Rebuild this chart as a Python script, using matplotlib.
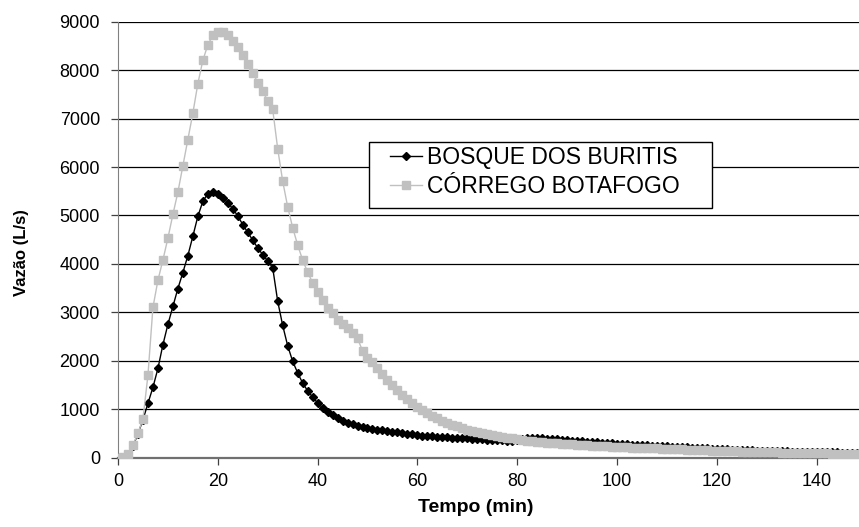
import matplotlib.pyplot as plt
from matplotlib.patches import Rectangle

plt.rcParams['font.family'] = ['Liberation Sans', 'DejaVu Sans']

# tempo em minutos (passo de 1 min)
tempo = list(range(0, 151))

bosque = [0, 10, 60, 240, 490, 780, 1120, 1450, 1840, 2330,
          2750, 3120, 3490, 3820, 4170, 4570, 4980, 5290, 5450, 5490,
          5450, 5370, 5260, 5140, 4990, 4810, 4650, 4490, 4330, 4190,
          4060, 3920, 3230, 2730, 2310, 1990, 1750, 1540, 1380, 1250,
          1130, 1030, 940, 870, 810, 760, 720, 685, 655, 630,
          610, 595, 580, 565, 550, 535, 520, 505, 490, 478,
          465, 455, 448, 440, 433, 426, 420, 414, 408, 402,
          396, 390, 384, 378, 372, 366, 360, 356, 352, 350,
          355, 385, 405, 410, 405, 398, 390, 382, 374, 366,
          358, 351, 344, 337, 330, 323, 316, 309, 302, 295,
          288, 282, 276, 270, 264, 258, 252, 247, 242, 237,
          231, 226, 221, 216, 211, 206, 200, 194, 188, 182,
          176, 172, 168, 164, 160, 156, 152, 149, 146, 143,
          140, 137, 134, 131, 128, 125, 123, 121, 119, 117,
          115, 113, 111, 109, 107, 105, 103, 101, 99, 97,
          95]

botafogo = [0, 15, 70, 260, 500, 800, 1700, 3100, 3660, 4080,
            4530, 5020, 5480, 6020, 6550, 7110, 7720, 8200, 8520, 8720,
            8790, 8780, 8720, 8600, 8470, 8310, 8130, 7950, 7740, 7560,
            7370, 7190, 6380, 5710, 5180, 4750, 4390, 4080, 3830, 3610,
            3420, 3250, 3090, 2980, 2850, 2750, 2670, 2580, 2460, 2210,
            2060, 1980, 1850, 1730, 1610, 1490, 1390, 1300, 1210, 1130,
            1050, 980, 920, 860, 810, 760, 720, 680, 645, 610,
            580, 555, 530, 505, 485, 465, 445, 428, 410, 395,
            380, 366, 353, 341, 330, 320, 311, 302, 294, 286,
            279, 272, 266, 260, 254, 248, 243, 238, 233, 228,
            223, 218, 213, 208, 204, 200, 196, 192, 188, 184,
            180, 176, 172, 168, 164, 160, 156, 152, 148, 144,
            140, 137, 134, 131, 128, 125, 122, 119, 116, 113,
            110, 108, 106, 104, 102, 100, 98, 96, 94, 92,
            90, 88, 86, 84, 83, 82, 81, 80, 79, 78,
            77]

fig = plt.figure(figsize=(8.59, 5.27), dpi=100)
ax = fig.add_axes([118 / 859, 1 - 457.6 / 527, 1 - 118 / 859, (457.6 - 21.7) / 527])

ax.plot(tempo, bosque, color='black', lw=1, marker='D', markersize=4.5,
        label='BOSQUE DOS BURITIS', zorder=3)
ax.plot(tempo, botafogo, color='#c0c0c0', lw=1, marker='s', markersize=5.5,
        label='CÓRREGO BOTAFOGO', zorder=4)

ax.set_xlim(0, 148.5)
ax.set_ylim(0, 9000)
ax.set_xticks(range(0, 141, 20))
ax.set_yticks(range(0, 9001, 1000))
ax.yaxis.grid(True, color='black', lw=0.9)
ax.set_axisbelow(True)

for s in ['top', 'right']:
    ax.spines[s].set_visible(False)
ax.spines['left'].set_color('#808080')
ax.spines['bottom'].set_color('#707070')
ax.spines['bottom'].set_linewidth(1.6)
ax.tick_params(axis='both', labelsize=13, length=5, color='#404040', width=0.9)
ax.tick_params(axis='y', pad=8)
ax.tick_params(axis='x', pad=6)

# titulos dos eixos
fig.text(476 / 859, 1 - 508 / 527, 'Tempo (min)', fontsize=14, fontweight='bold',
         ha='center', va='center')
fig.text(22 / 859, 1 - 253 / 527, 'Vazão (L/s)', fontsize=12, fontweight='bold',
         ha='center', va='center', rotation=90)

# caixa da legenda
fig.patches.append(Rectangle((369 / 859, 1 - 208.3 / 527), (711.7 - 369) / 859, 66 / 527,
                             transform=fig.transFigure, facecolor='white',
                             edgecolor='black', lw=1, zorder=2))
handles, labels = ax.get_legend_handles_labels()
fig.legend(handles, labels, loc='upper left', bbox_to_anchor=(390 / 859, 1 - 146 / 527),
           frameon=False, fontsize=16.5, borderpad=0, handlelength=1.4,
           handletextpad=0.22, labelspacing=0.26, borderaxespad=0).set_zorder(3)

plt.savefig('out.png', dpi=100)
